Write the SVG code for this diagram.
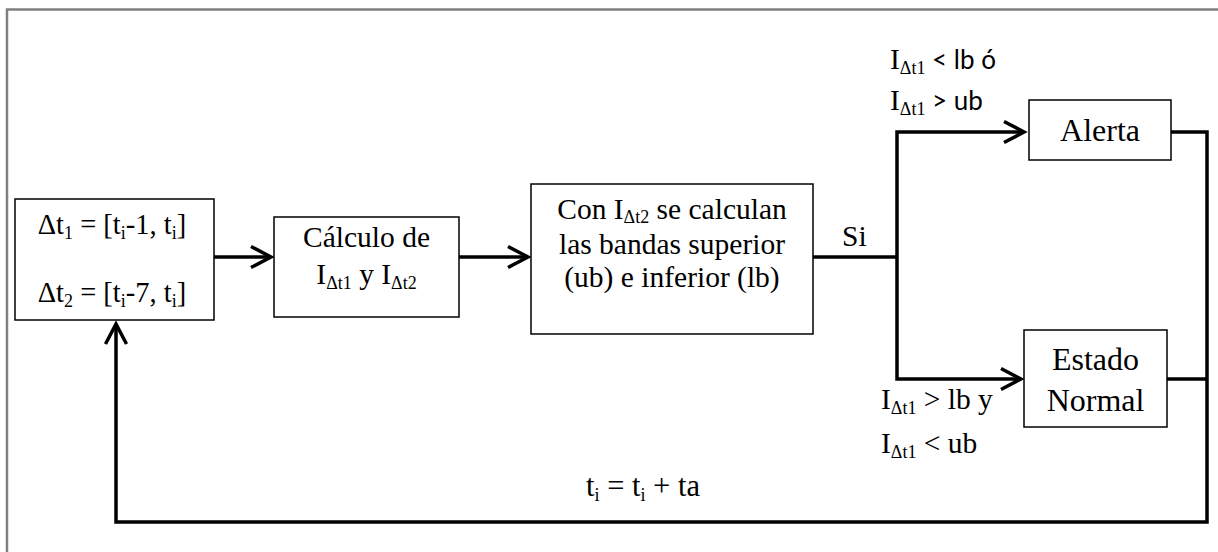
<svg xmlns="http://www.w3.org/2000/svg" width="1218" height="552" viewBox="0 0 1218 552">
<style>
  .box { fill: #fff; stroke: #000; stroke-width: 1.5; }
  .t { font-family: "Liberation Serif", "Times New Roman", serif; font-size: 29.5px; fill: #000; }
  .big { font-size: 32px; }
  .s { font-family: Lato, "Noto Sans", sans-serif; font-size: 26px; fill: #000; }
  .sub { font-size: 18px; }
  .c { fill: none; stroke: #000; stroke-width: 3.5; }
</style>
<defs>
  <marker id="arr" markerUnits="userSpaceOnUse" markerWidth="30" markerHeight="30" viewBox="-24 -15 30 30" refX="0" refY="0" orient="auto" overflow="visible">
    <path d="M-20,-10.5 L0,0 L-20,10.5" fill="none" stroke="#000" stroke-width="3.5" stroke-linejoin="miter"/>
  </marker>
</defs>
<rect width="1218" height="552" fill="#fff"/>
<g id="frame">
  <path d="M7,552 V9.5 H1218" fill="none" stroke="#808080" stroke-width="2.5"/>
</g>
<g id="connectors">
  <path class="c" d="M214,257 H271" marker-end="url(#arr)"/>
  <path class="c" d="M459,257 H528" marker-end="url(#arr)"/>
  <path class="c" d="M813,257 H897"/>
  <path class="c" d="M897,257 V132 H1024" marker-end="url(#arr)"/>
  <path class="c" d="M897,257 V379 H1021" marker-end="url(#arr)"/>
  <path class="c" d="M1171,132 H1207 V522 H116 V324" marker-end="url(#arr)"/>
  <path class="c" d="M1167,379 H1207"/>
  <text class="t" x="842" y="246">Si</text>
  <text class="s" x="890" y="69"><tspan class="t">I</tspan><tspan class="t sub" dy="5">Δt1</tspan><tspan dy="-5"> &lt; lb ó</tspan></text>
  <text class="s" x="890" y="110"><tspan class="t">I</tspan><tspan class="t sub" dy="5">Δt1</tspan><tspan dy="-5"> &gt; ub</tspan></text>
  <text class="t" x="881" y="409">I<tspan class="sub" dy="5">Δt1</tspan><tspan dy="-5"> &gt; lb y</tspan></text>
  <text class="t" x="881" y="453">I<tspan class="sub" dy="5">Δt1</tspan><tspan dy="-5"> &lt; ub</tspan></text>
  <text class="t" x="643" y="496" text-anchor="middle" style="font-size:30.5px">t<tspan class="sub" dy="5">i</tspan><tspan dy="-5"> = t</tspan><tspan class="sub" dy="5">i</tspan><tspan dy="-5"> + ta</tspan></text>
</g>
<g id="n-intervals">
  <rect class="box" x="15" y="199" width="199" height="121"/>
  <text class="t" x="112" y="234" text-anchor="middle" style="font-size:28.5px">Δt<tspan class="sub" dy="5">1</tspan><tspan dy="-5"> = [t</tspan><tspan class="sub" dy="5">i</tspan><tspan dy="-5">-1, t</tspan><tspan class="sub" dy="5">i</tspan><tspan dy="-5">]</tspan></text>
  <text class="t" x="112" y="302" text-anchor="middle" style="font-size:28.5px">Δt<tspan class="sub" dy="5">2</tspan><tspan dy="-5"> = [t</tspan><tspan class="sub" dy="5">i</tspan><tspan dy="-5">-7, t</tspan><tspan class="sub" dy="5">i</tspan><tspan dy="-5">]</tspan></text>
</g>
<g id="n-calculo">
  <rect class="box" x="274" y="217" width="185" height="100"/>
  <text class="t" x="366.5" y="247" text-anchor="middle">Cálculo de</text>
  <text class="t" x="366.5" y="284" text-anchor="middle">I<tspan class="sub" dy="5">Δt1</tspan><tspan dy="-5"> y I</tspan><tspan class="sub" dy="5">Δt2</tspan></text>
</g>
<g id="n-bandas">
  <rect class="box" x="531" y="184" width="282" height="150"/>
  <text class="t" x="672" y="219" text-anchor="middle">Con I<tspan class="sub" dy="4">Δt2</tspan><tspan dy="-4"> se calculan</tspan></text>
  <text class="t" x="672" y="254" text-anchor="middle">las bandas superior</text>
  <text class="t" x="672" y="287" text-anchor="middle">(ub) e inferior (lb)</text>
</g>
<g id="n-alerta">
  <rect class="box" x="1029" y="100" width="142" height="60"/>
  <text class="t big" x="1100" y="141" text-anchor="middle">Alerta</text>
</g>
<g id="n-normal">
  <rect class="box" x="1024" y="330" width="143" height="97"/>
  <text class="t big" x="1095.5" y="370" text-anchor="middle">Estado</text>
  <text class="t big" x="1095.5" y="411" text-anchor="middle">Normal</text>
</g>
</svg>
